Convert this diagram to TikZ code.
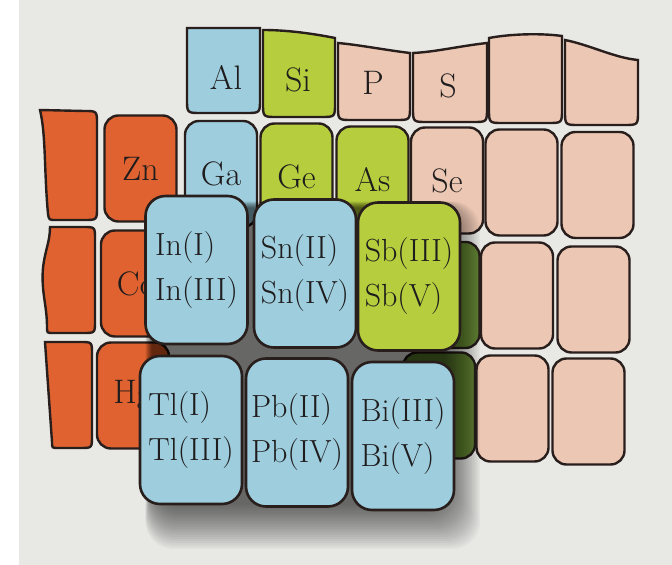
\documentclass[tikz,border=0pt]{standalone}
\usepackage{tikz}
\definecolor{pagebg}{RGB}{232,232,229}
\definecolor{tileblue}{RGB}{158,205,222}
\definecolor{tilegreen}{RGB}{182,206,62}
\definecolor{tilepeach}{RGB}{236,199,180}
\definecolor{tileorange}{RGB}{224,98,48}
\definecolor{tiledark}{RGB}{96,128,52}
\definecolor{tileedge}{RGB}{40,30,28}
\definecolor{tiletext}{RGB}{30,28,28}

\begin{document}
\begin{tikzpicture}[x=0.5pt, y=-0.5pt,
  tile/.style={draw=tileedge, line width=1.2pt, rounded corners=7pt,
               minimum width=36pt, minimum height=53pt, inner sep=0pt,
               font=\fontsize{17}{20}\selectfont, text=tiletext},
  bigtile/.style={draw=tileedge, line width=1.3pt, rounded corners=10pt, fill=tileblue,
                  minimum width=51pt, minimum height=74pt, inner sep=0.5pt, align=left,
                  font=\fontsize{16}{22.5}\selectfont, text=tiletext},
  rim/.style={draw=tileedge, line width=1.2pt},
  lbl/.style={font=\fontsize{17}{20}\selectfont, text=tiletext}
]
  \useasboundingbox (0,0) rectangle (672,565);
  \fill[pagebg] (0,0) rectangle (672,565);
  \fill[white] (0,0) rectangle (19,565);

  % top row, cut off by a wavy edge
  \filldraw[rim, fill=tileblue] (187,28) -- (187,99) .. controls (187,113) .. (201,113) -- (246,113) .. controls (260,113) .. (260,99) -- (260,28) -- cycle;
  \filldraw[rim, fill=tilegreen] (263,30) -- (263,103) .. controls (263,117) .. (277,117) -- (321,117) .. controls (335,117) .. (335,103) -- (335,38) .. controls (310,33) and (285,30) .. (263,30) -- cycle;
  \filldraw[rim, fill=tilepeach] (338,43) -- (338,106) .. controls (338,120) .. (352,120) -- (396,120) .. controls (410,120) .. (410,106) -- (410,53) .. controls (385,50) and (360,45) .. (338,43) -- cycle;
  \filldraw[rim, fill=tilepeach] (413,53) -- (413,108) .. controls (413,122) .. (427,122) -- (473,122) .. controls (487,122) .. (487,108) -- (487,43) .. controls (460,46) and (435,52) .. (413,53) -- cycle;
  \filldraw[rim, fill=tilepeach] (489,38) -- (489,109) .. controls (489,123) .. (503,123) -- (548,123) .. controls (562,123) .. (562,109) -- (562,36) .. controls (540,33) and (510,34) .. (489,38) -- cycle;
  \filldraw[rim, fill=tilepeach] (565,40) -- (565,111) .. controls (565,125) .. (579,125) -- (624,125) .. controls (638,125) .. (638,111) -- (638,60) .. controls (615,58) and (590,45) .. (565,40) -- cycle;
  \node[lbl] (al) at (226,77) {Al};
  \node[lbl] (si) at (298,80) {Si};
  \node[lbl] (p)  at (373,83) {P};
  \node[lbl] (s)  at (448,86) {S};

  % left column, cut off by a wavy edge
  \filldraw[rim, fill=tileorange] (40,110) -- (84,111) .. controls (97,111) .. (97,124) -- (97,207) .. controls (97,220) .. (84,220) -- (56,220) .. controls (49,220) .. (48,214) .. controls (44,170) and (46,135) .. (40,110) -- cycle;
  \filldraw[rim, fill=tileorange] (50,227) -- (83,227) .. controls (95,227) .. (95,239) -- (95,321) .. controls (95,333) .. (83,333) -- (53,333) .. controls (47,333) .. (47,327) .. controls (47,305) and (41,292) .. (43,268) .. controls (45,250) and (50,242) .. (50,227) -- cycle;
  \filldraw[rim, fill=tileorange] (45,342) -- (80,342) .. controls (92,342) .. (92,354) -- (92,436) .. controls (92,448) .. (80,448) -- (58,448) .. controls (52,448) .. (52,442) -- cycle;

  % the rest of the table
  \node[tile, fill=tileorange] (zn) at (140.5,168.5) {Zn};
  \node[tile, fill=tileorange] (cd) at (137,283.5) {Cd};
  \node[tile, fill=tileorange] (hg) at (133,395.5) {Hg};
  \node[tile, fill=tileblue]   (ga) at (221,174) {Ga};
  \node[tile, fill=tilegreen]  (ge) at (296.5,176.5) {Ge};
  \node[tile, fill=tilegreen]  (as) at (372.5,179.5) {As};
  \node[tile, fill=tilepeach]  (se) at (447,180.5) {Se};
  \node[tile, fill=tilepeach]  (r2c6) at (521.5,182.5) {};
  \node[tile, fill=tilepeach]  (r2c7) at (597.5,185) {};
  \node[tile, fill=tiledark]   (te) at (443.5,295) {};
  \node[tile, fill=tilepeach]  (r3c6) at (517,295.5) {};
  \node[tile, fill=tilepeach]  (r3c7) at (593.5,299.5) {};
  \node[tile, fill=tiledark]   (po) at (439,405.5) {};
  \node[tile, fill=tilepeach]  (r4c6) at (512.5,408.5) {};
  \node[tile, fill=tilepeach]  (r4c7) at (588.5,411.5) {};

  % shadow of the lifted tiles
  \foreach \d in {0,2,...,44}
    \fill[black, opacity=0.032, rounded corners=14pt]
      ({152-0.15*\d},{208-0.15*\d}) rectangle ({445+0.8*\d},{505+\d});

  % lifted tiles
  \node[bigtile] (tIn) at (196.5,270) {In(I)\\In(III)};
  \node[bigtile] (tSn) at (305,273.5) {Sn(II)\\Sn(IV)};
  \node[bigtile, fill=tilegreen] (tSb) at (409,276.5) {Sb(III)\\Sb(V)};
  \node[bigtile] (tTl) at (191,430) {Tl(I)\\Tl(III)};
  \node[bigtile] (tPb) at (297,432.5) {Pb(II)\\Pb(IV)};
  \node[bigtile] (tBi) at (403,436) {Bi(III)\\Bi(V)};
\end{tikzpicture}
\end{document}
